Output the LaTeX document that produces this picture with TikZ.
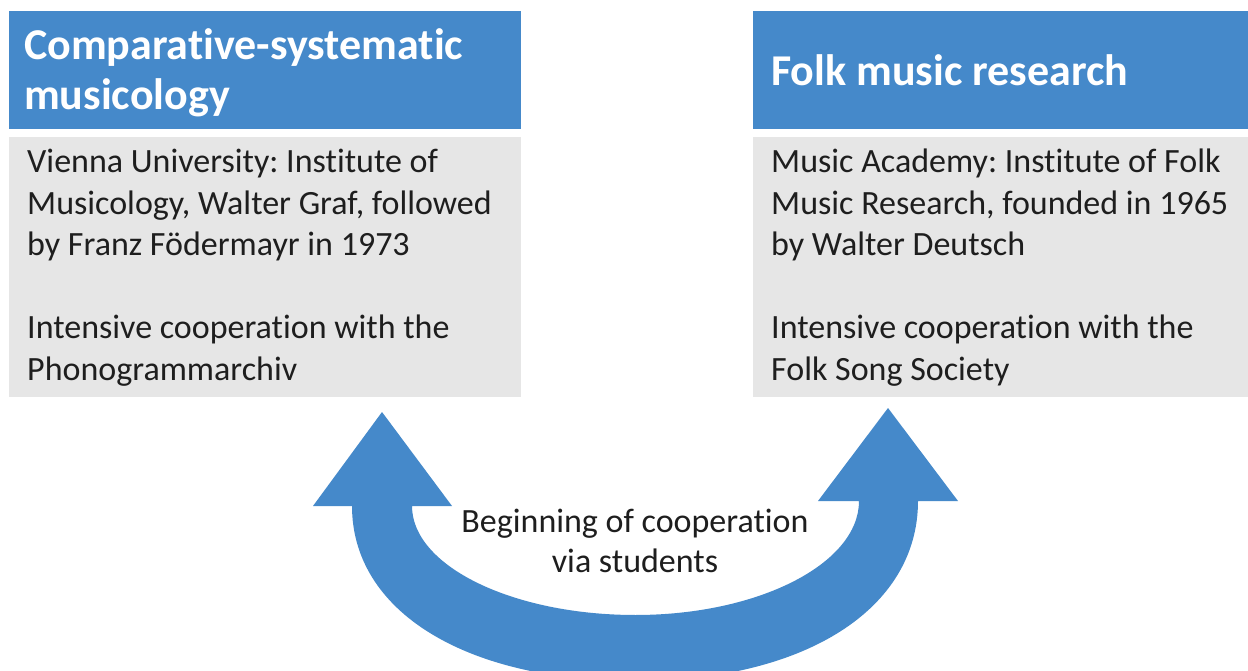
\documentclass[tikz,border=0pt]{standalone}
\usepackage{fontspec}
\setmainfont{Carlito}[Ligatures=NoCommon]
\frenchspacing
\definecolor{hdrblue}{RGB}{69,137,202}
\definecolor{bodygray}{RGB}{230,230,230}
\definecolor{txtdark}{RGB}{30,30,30}
\tikzset{
  hdrbox/.style={fill=hdrblue, draw=none},
  bodybox/.style={fill=bodygray, draw=none},
  hdrtext/.style={anchor=base west, inner sep=0pt, align=left, text=white,
    font=\fontsize{44}{50}\selectfont\bfseries},
  bodytext/.style={anchor=base west, inner sep=0pt, align=left, text=txtdark,
    font=\fontsize{34}{41.5}\selectfont},
  midtext/.style={anchor=base, inner sep=0pt, align=center, text=txtdark,
    font=\fontsize{34}{40}\selectfont},
  arrowfill/.style={fill=hdrblue, draw=none}
}
\begin{document}
\begin{tikzpicture}[x=1pt, y=-1pt]
\useasboundingbox (0,0) rectangle (1248,671);
\clip (0,0) rectangle (1248,671);
\fill[white] (0,0) rectangle (1248,671);
% left column
\fill[hdrbox] (9,11) rectangle (521,129);
\fill[bodybox] (9,137) rectangle (521,397);
% base anchor = baseline of the last line
\node[hdrtext] (lh) at (24,110) {Comparative-systematic\\musicology};
\node[bodytext] (lb) at (27,380) {Vienna University: Institute of\\Musicology, Walter Graf, followed\\by Franz Födermayr in 1973\\[41.5pt]Intensive cooperation with the\\Phonogrammarchiv};
% right column
\fill[hdrbox] (753,11) rectangle (1248,129);
\fill[bodybox] (753,137) rectangle (1248,397);
\node[hdrtext] (rh) at (771,86) {Folk music research};
\node[bodytext] (rb) at (771,380) {Music Academy: Institute of Folk\\Music Research, founded in 1965\\by Walter Deutsch\\[41.5pt]Intensive cooperation with the\\Folk Song Society};
% U-shaped double arrow
\fill[arrowfill] (313,506) -- (382,412) -- (452,506) -- (412,506)
  .. controls (412,566) and (512.6,615) .. (635.5,615)
  .. controls (758.4,615) and (859,563.7) .. (859,501)
  -- (818,501) -- (888,408) -- (958,501) -- (918,501)
  .. controls (918,609) and (804.8,681) .. (635,681)
  .. controls (465,681) and (352,611) .. (352,506) -- cycle;
\node[midtext] (mid) at (635,572) {Beginning of cooperation\\via students};
\end{tikzpicture}
\end{document}
